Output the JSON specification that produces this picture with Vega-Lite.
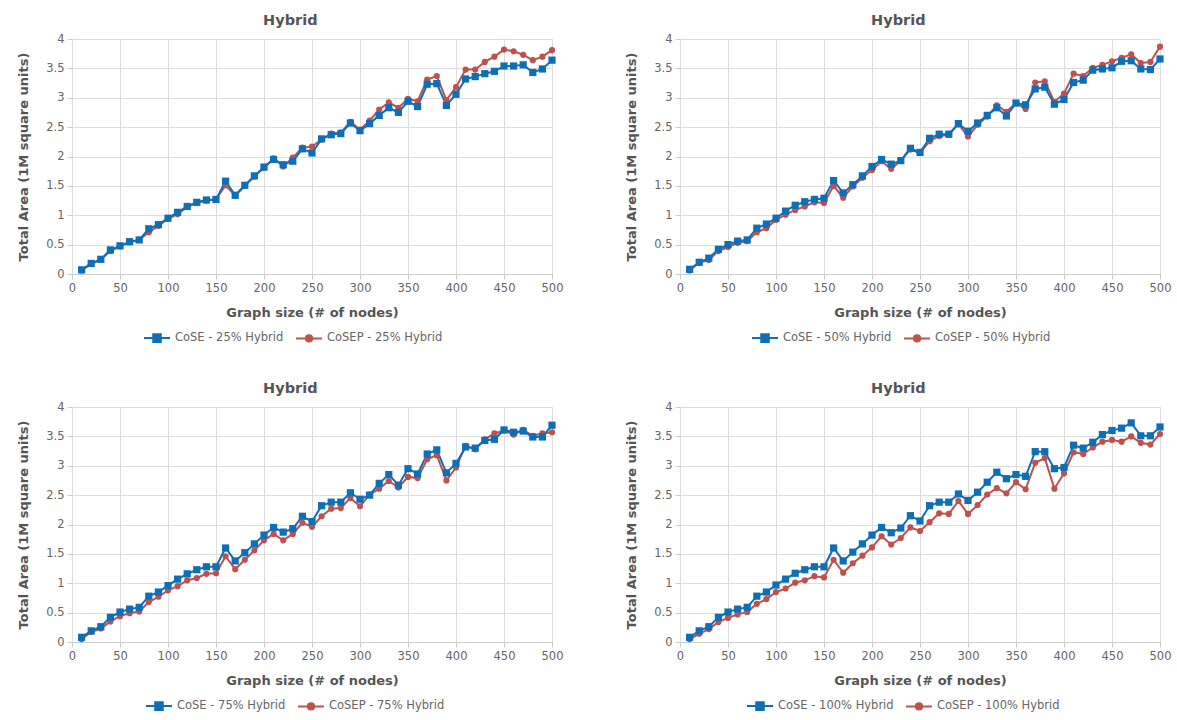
{
  "$schema": "https://vega.github.io/schema/vega-lite/v6.json",
  "padding": {"left": 17, "top": 12, "right": 5, "bottom": 5},
  "background": "white",
  "datasets": {
    "p1": [
      {"x":10,"s":"CoSEP","y":0.06},{"x":20,"s":"CoSEP","y":0.17},{"x":30,"s":"CoSEP","y":0.25},{"x":40,"s":"CoSEP","y":0.39},{"x":50,"s":"CoSEP","y":0.47},{"x":60,"s":"CoSEP","y":0.54},{"x":70,"s":"CoSEP","y":0.58},{"x":80,"s":"CoSEP","y":0.71},{"x":90,"s":"CoSEP","y":0.82},{"x":100,"s":"CoSEP","y":0.94},
      {"x":110,"s":"CoSEP","y":1.02},{"x":120,"s":"CoSEP","y":1.14},{"x":130,"s":"CoSEP","y":1.21},{"x":140,"s":"CoSEP","y":1.25},{"x":150,"s":"CoSEP","y":1.27},{"x":160,"s":"CoSEP","y":1.51},{"x":170,"s":"CoSEP","y":1.33},{"x":180,"s":"CoSEP","y":1.50},{"x":190,"s":"CoSEP","y":1.66},{"x":200,"s":"CoSEP","y":1.81},
      {"x":210,"s":"CoSEP","y":1.97},{"x":220,"s":"CoSEP","y":1.83},{"x":230,"s":"CoSEP","y":1.98},{"x":240,"s":"CoSEP","y":2.15},{"x":250,"s":"CoSEP","y":2.17},{"x":260,"s":"CoSEP","y":2.29},{"x":270,"s":"CoSEP","y":2.39},{"x":280,"s":"CoSEP","y":2.41},{"x":290,"s":"CoSEP","y":2.59},{"x":300,"s":"CoSEP","y":2.46},
      {"x":310,"s":"CoSEP","y":2.61},{"x":320,"s":"CoSEP","y":2.80},{"x":330,"s":"CoSEP","y":2.92},{"x":340,"s":"CoSEP","y":2.83},{"x":350,"s":"CoSEP","y":2.98},{"x":360,"s":"CoSEP","y":2.94},{"x":370,"s":"CoSEP","y":3.31},{"x":380,"s":"CoSEP","y":3.37},{"x":390,"s":"CoSEP","y":2.96},{"x":400,"s":"CoSEP","y":3.18},
      {"x":410,"s":"CoSEP","y":3.48},{"x":420,"s":"CoSEP","y":3.48},{"x":430,"s":"CoSEP","y":3.61},{"x":440,"s":"CoSEP","y":3.70},{"x":450,"s":"CoSEP","y":3.82},{"x":460,"s":"CoSEP","y":3.79},{"x":470,"s":"CoSEP","y":3.73},{"x":480,"s":"CoSEP","y":3.64},{"x":490,"s":"CoSEP","y":3.70},{"x":500,"s":"CoSEP","y":3.81},
      {"x":10,"s":"CoSE","y":0.07},{"x":20,"s":"CoSE","y":0.18},{"x":30,"s":"CoSE","y":0.25},{"x":40,"s":"CoSE","y":0.41},{"x":50,"s":"CoSE","y":0.48},{"x":60,"s":"CoSE","y":0.55},{"x":70,"s":"CoSE","y":0.58},{"x":80,"s":"CoSE","y":0.77},{"x":90,"s":"CoSE","y":0.84},{"x":100,"s":"CoSE","y":0.95},
      {"x":110,"s":"CoSE","y":1.05},{"x":120,"s":"CoSE","y":1.15},{"x":130,"s":"CoSE","y":1.22},{"x":140,"s":"CoSE","y":1.26},{"x":150,"s":"CoSE","y":1.27},{"x":160,"s":"CoSE","y":1.58},{"x":170,"s":"CoSE","y":1.34},{"x":180,"s":"CoSE","y":1.51},{"x":190,"s":"CoSE","y":1.67},{"x":200,"s":"CoSE","y":1.82},
      {"x":210,"s":"CoSE","y":1.95},{"x":220,"s":"CoSE","y":1.86},{"x":230,"s":"CoSE","y":1.92},{"x":240,"s":"CoSE","y":2.13},{"x":250,"s":"CoSE","y":2.06},{"x":260,"s":"CoSE","y":2.30},{"x":270,"s":"CoSE","y":2.37},{"x":280,"s":"CoSE","y":2.39},{"x":290,"s":"CoSE","y":2.57},{"x":300,"s":"CoSE","y":2.44},
      {"x":310,"s":"CoSE","y":2.56},{"x":320,"s":"CoSE","y":2.70},{"x":330,"s":"CoSE","y":2.83},{"x":340,"s":"CoSE","y":2.75},{"x":350,"s":"CoSE","y":2.94},{"x":360,"s":"CoSE","y":2.85},{"x":370,"s":"CoSE","y":3.23},{"x":380,"s":"CoSE","y":3.24},{"x":390,"s":"CoSE","y":2.87},{"x":400,"s":"CoSE","y":3.06},
      {"x":410,"s":"CoSE","y":3.32},{"x":420,"s":"CoSE","y":3.36},{"x":430,"s":"CoSE","y":3.41},{"x":440,"s":"CoSE","y":3.45},{"x":450,"s":"CoSE","y":3.54},{"x":460,"s":"CoSE","y":3.54},{"x":470,"s":"CoSE","y":3.56},{"x":480,"s":"CoSE","y":3.43},{"x":490,"s":"CoSE","y":3.49},{"x":500,"s":"CoSE","y":3.64}
    ],
    "p2": [
      {"x":10,"s":"CoSEP","y":0.06},{"x":20,"s":"CoSEP","y":0.19},{"x":30,"s":"CoSEP","y":0.24},{"x":40,"s":"CoSEP","y":0.39},{"x":50,"s":"CoSEP","y":0.46},{"x":60,"s":"CoSEP","y":0.53},{"x":70,"s":"CoSEP","y":0.56},{"x":80,"s":"CoSEP","y":0.71},{"x":90,"s":"CoSEP","y":0.78},{"x":100,"s":"CoSEP","y":0.92},
      {"x":110,"s":"CoSEP","y":1.01},{"x":120,"s":"CoSEP","y":1.09},{"x":130,"s":"CoSEP","y":1.15},{"x":140,"s":"CoSEP","y":1.22},{"x":150,"s":"CoSEP","y":1.21},{"x":160,"s":"CoSEP","y":1.50},{"x":170,"s":"CoSEP","y":1.30},{"x":180,"s":"CoSEP","y":1.49},{"x":190,"s":"CoSEP","y":1.64},{"x":200,"s":"CoSEP","y":1.77},
      {"x":210,"s":"CoSEP","y":1.92},{"x":220,"s":"CoSEP","y":1.79},{"x":230,"s":"CoSEP","y":1.93},{"x":240,"s":"CoSEP","y":2.12},{"x":250,"s":"CoSEP","y":2.06},{"x":260,"s":"CoSEP","y":2.26},{"x":270,"s":"CoSEP","y":2.35},{"x":280,"s":"CoSEP","y":2.37},{"x":290,"s":"CoSEP","y":2.55},{"x":300,"s":"CoSEP","y":2.34},
      {"x":310,"s":"CoSEP","y":2.54},{"x":320,"s":"CoSEP","y":2.68},{"x":330,"s":"CoSEP","y":2.87},{"x":340,"s":"CoSEP","y":2.76},{"x":350,"s":"CoSEP","y":2.91},{"x":360,"s":"CoSEP","y":2.81},{"x":370,"s":"CoSEP","y":3.26},{"x":380,"s":"CoSEP","y":3.28},{"x":390,"s":"CoSEP","y":2.93},{"x":400,"s":"CoSEP","y":3.07},
      {"x":410,"s":"CoSEP","y":3.41},{"x":420,"s":"CoSEP","y":3.37},{"x":430,"s":"CoSEP","y":3.51},{"x":440,"s":"CoSEP","y":3.56},{"x":450,"s":"CoSEP","y":3.62},{"x":460,"s":"CoSEP","y":3.68},{"x":470,"s":"CoSEP","y":3.74},{"x":480,"s":"CoSEP","y":3.59},{"x":490,"s":"CoSEP","y":3.61},{"x":500,"s":"CoSEP","y":3.87},
      {"x":10,"s":"CoSE","y":0.08},{"x":20,"s":"CoSE","y":0.20},{"x":30,"s":"CoSE","y":0.27},{"x":40,"s":"CoSE","y":0.42},{"x":50,"s":"CoSE","y":0.50},{"x":60,"s":"CoSE","y":0.56},{"x":70,"s":"CoSE","y":0.58},{"x":80,"s":"CoSE","y":0.78},{"x":90,"s":"CoSE","y":0.85},{"x":100,"s":"CoSE","y":0.95},
      {"x":110,"s":"CoSE","y":1.07},{"x":120,"s":"CoSE","y":1.17},{"x":130,"s":"CoSE","y":1.23},{"x":140,"s":"CoSE","y":1.27},{"x":150,"s":"CoSE","y":1.29},{"x":160,"s":"CoSE","y":1.59},{"x":170,"s":"CoSE","y":1.38},{"x":180,"s":"CoSE","y":1.52},{"x":190,"s":"CoSE","y":1.67},{"x":200,"s":"CoSE","y":1.83},
      {"x":210,"s":"CoSE","y":1.95},{"x":220,"s":"CoSE","y":1.87},{"x":230,"s":"CoSE","y":1.93},{"x":240,"s":"CoSE","y":2.14},{"x":250,"s":"CoSE","y":2.07},{"x":260,"s":"CoSE","y":2.31},{"x":270,"s":"CoSE","y":2.38},{"x":280,"s":"CoSE","y":2.38},{"x":290,"s":"CoSE","y":2.56},{"x":300,"s":"CoSE","y":2.43},
      {"x":310,"s":"CoSE","y":2.57},{"x":320,"s":"CoSE","y":2.70},{"x":330,"s":"CoSE","y":2.83},{"x":340,"s":"CoSE","y":2.69},{"x":350,"s":"CoSE","y":2.91},{"x":360,"s":"CoSE","y":2.88},{"x":370,"s":"CoSE","y":3.15},{"x":380,"s":"CoSE","y":3.18},{"x":390,"s":"CoSE","y":2.89},{"x":400,"s":"CoSE","y":2.97},
      {"x":410,"s":"CoSE","y":3.26},{"x":420,"s":"CoSE","y":3.30},{"x":430,"s":"CoSE","y":3.47},{"x":440,"s":"CoSE","y":3.49},{"x":450,"s":"CoSE","y":3.51},{"x":460,"s":"CoSE","y":3.62},{"x":470,"s":"CoSE","y":3.63},{"x":480,"s":"CoSE","y":3.49},{"x":490,"s":"CoSE","y":3.48},{"x":500,"s":"CoSE","y":3.66}
    ],
    "p3": [
      {"x":10,"s":"CoSEP","y":0.05},{"x":20,"s":"CoSEP","y":0.17},{"x":30,"s":"CoSEP","y":0.23},{"x":40,"s":"CoSEP","y":0.35},{"x":50,"s":"CoSEP","y":0.44},{"x":60,"s":"CoSEP","y":0.49},{"x":70,"s":"CoSEP","y":0.52},{"x":80,"s":"CoSEP","y":0.68},{"x":90,"s":"CoSEP","y":0.77},{"x":100,"s":"CoSEP","y":0.88},
      {"x":110,"s":"CoSEP","y":0.95},{"x":120,"s":"CoSEP","y":1.05},{"x":130,"s":"CoSEP","y":1.09},{"x":140,"s":"CoSEP","y":1.16},{"x":150,"s":"CoSEP","y":1.17},{"x":160,"s":"CoSEP","y":1.46},{"x":170,"s":"CoSEP","y":1.24},{"x":180,"s":"CoSEP","y":1.40},{"x":190,"s":"CoSEP","y":1.56},{"x":200,"s":"CoSEP","y":1.73},
      {"x":210,"s":"CoSEP","y":1.84},{"x":220,"s":"CoSEP","y":1.73},{"x":230,"s":"CoSEP","y":1.84},{"x":240,"s":"CoSEP","y":2.03},{"x":250,"s":"CoSEP","y":1.96},{"x":260,"s":"CoSEP","y":2.14},{"x":270,"s":"CoSEP","y":2.27},{"x":280,"s":"CoSEP","y":2.28},{"x":290,"s":"CoSEP","y":2.45},{"x":300,"s":"CoSEP","y":2.31},
      {"x":310,"s":"CoSEP","y":2.51},{"x":320,"s":"CoSEP","y":2.61},{"x":330,"s":"CoSEP","y":2.74},{"x":340,"s":"CoSEP","y":2.63},{"x":350,"s":"CoSEP","y":2.81},{"x":360,"s":"CoSEP","y":2.79},{"x":370,"s":"CoSEP","y":3.11},{"x":380,"s":"CoSEP","y":3.18},{"x":390,"s":"CoSEP","y":2.75},{"x":400,"s":"CoSEP","y":2.97},
      {"x":410,"s":"CoSEP","y":3.34},{"x":420,"s":"CoSEP","y":3.28},{"x":430,"s":"CoSEP","y":3.45},{"x":440,"s":"CoSEP","y":3.55},{"x":450,"s":"CoSEP","y":3.60},{"x":460,"s":"CoSEP","y":3.53},{"x":470,"s":"CoSEP","y":3.61},{"x":480,"s":"CoSEP","y":3.51},{"x":490,"s":"CoSEP","y":3.55},{"x":500,"s":"CoSEP","y":3.57},
      {"x":10,"s":"CoSE","y":0.08},{"x":20,"s":"CoSE","y":0.19},{"x":30,"s":"CoSE","y":0.26},{"x":40,"s":"CoSE","y":0.42},{"x":50,"s":"CoSE","y":0.51},{"x":60,"s":"CoSE","y":0.56},{"x":70,"s":"CoSE","y":0.59},{"x":80,"s":"CoSE","y":0.78},{"x":90,"s":"CoSE","y":0.85},{"x":100,"s":"CoSE","y":0.96},
      {"x":110,"s":"CoSE","y":1.07},{"x":120,"s":"CoSE","y":1.16},{"x":130,"s":"CoSE","y":1.23},{"x":140,"s":"CoSE","y":1.28},{"x":150,"s":"CoSE","y":1.28},{"x":160,"s":"CoSE","y":1.60},{"x":170,"s":"CoSE","y":1.38},{"x":180,"s":"CoSE","y":1.52},{"x":190,"s":"CoSE","y":1.67},{"x":200,"s":"CoSE","y":1.82},
      {"x":210,"s":"CoSE","y":1.95},{"x":220,"s":"CoSE","y":1.87},{"x":230,"s":"CoSE","y":1.93},{"x":240,"s":"CoSE","y":2.14},{"x":250,"s":"CoSE","y":2.05},{"x":260,"s":"CoSE","y":2.32},{"x":270,"s":"CoSE","y":2.38},{"x":280,"s":"CoSE","y":2.38},{"x":290,"s":"CoSE","y":2.54},{"x":300,"s":"CoSE","y":2.43},
      {"x":310,"s":"CoSE","y":2.50},{"x":320,"s":"CoSE","y":2.70},{"x":330,"s":"CoSE","y":2.85},{"x":340,"s":"CoSE","y":2.67},{"x":350,"s":"CoSE","y":2.95},{"x":360,"s":"CoSE","y":2.86},{"x":370,"s":"CoSE","y":3.20},{"x":380,"s":"CoSE","y":3.27},{"x":390,"s":"CoSE","y":2.88},{"x":400,"s":"CoSE","y":3.04},
      {"x":410,"s":"CoSE","y":3.32},{"x":420,"s":"CoSE","y":3.30},{"x":430,"s":"CoSE","y":3.43},{"x":440,"s":"CoSE","y":3.45},{"x":450,"s":"CoSE","y":3.61},{"x":460,"s":"CoSE","y":3.57},{"x":470,"s":"CoSE","y":3.59},{"x":480,"s":"CoSE","y":3.49},{"x":490,"s":"CoSE","y":3.49},{"x":500,"s":"CoSE","y":3.69}
    ],
    "p4": [
      {"x":10,"s":"CoSEP","y":0.05},{"x":20,"s":"CoSEP","y":0.14},{"x":30,"s":"CoSEP","y":0.22},{"x":40,"s":"CoSEP","y":0.34},{"x":50,"s":"CoSEP","y":0.41},{"x":60,"s":"CoSEP","y":0.47},{"x":70,"s":"CoSEP","y":0.51},{"x":80,"s":"CoSEP","y":0.65},{"x":90,"s":"CoSEP","y":0.73},{"x":100,"s":"CoSEP","y":0.85},
      {"x":110,"s":"CoSEP","y":0.91},{"x":120,"s":"CoSEP","y":1.01},{"x":130,"s":"CoSEP","y":1.05},{"x":140,"s":"CoSEP","y":1.12},{"x":150,"s":"CoSEP","y":1.10},{"x":160,"s":"CoSEP","y":1.40},{"x":170,"s":"CoSEP","y":1.18},{"x":180,"s":"CoSEP","y":1.34},{"x":190,"s":"CoSEP","y":1.47},{"x":200,"s":"CoSEP","y":1.61},
      {"x":210,"s":"CoSEP","y":1.80},{"x":220,"s":"CoSEP","y":1.66},{"x":230,"s":"CoSEP","y":1.77},{"x":240,"s":"CoSEP","y":1.95},{"x":250,"s":"CoSEP","y":1.89},{"x":260,"s":"CoSEP","y":2.04},{"x":270,"s":"CoSEP","y":2.19},{"x":280,"s":"CoSEP","y":2.18},{"x":290,"s":"CoSEP","y":2.40},{"x":300,"s":"CoSEP","y":2.18},
      {"x":310,"s":"CoSEP","y":2.33},{"x":320,"s":"CoSEP","y":2.51},{"x":330,"s":"CoSEP","y":2.62},{"x":340,"s":"CoSEP","y":2.53},{"x":350,"s":"CoSEP","y":2.72},{"x":360,"s":"CoSEP","y":2.60},{"x":370,"s":"CoSEP","y":3.05},{"x":380,"s":"CoSEP","y":3.13},{"x":390,"s":"CoSEP","y":2.61},{"x":400,"s":"CoSEP","y":2.87},
      {"x":410,"s":"CoSEP","y":3.23},{"x":420,"s":"CoSEP","y":3.20},{"x":430,"s":"CoSEP","y":3.31},{"x":440,"s":"CoSEP","y":3.41},{"x":450,"s":"CoSEP","y":3.44},{"x":460,"s":"CoSEP","y":3.41},{"x":470,"s":"CoSEP","y":3.50},{"x":480,"s":"CoSEP","y":3.39},{"x":490,"s":"CoSEP","y":3.36},{"x":500,"s":"CoSEP","y":3.54},
      {"x":10,"s":"CoSE","y":0.08},{"x":20,"s":"CoSE","y":0.19},{"x":30,"s":"CoSE","y":0.26},{"x":40,"s":"CoSE","y":0.42},{"x":50,"s":"CoSE","y":0.51},{"x":60,"s":"CoSE","y":0.56},{"x":70,"s":"CoSE","y":0.59},{"x":80,"s":"CoSE","y":0.78},{"x":90,"s":"CoSE","y":0.85},{"x":100,"s":"CoSE","y":0.97},
      {"x":110,"s":"CoSE","y":1.07},{"x":120,"s":"CoSE","y":1.17},{"x":130,"s":"CoSE","y":1.23},{"x":140,"s":"CoSE","y":1.28},{"x":150,"s":"CoSE","y":1.28},{"x":160,"s":"CoSE","y":1.60},{"x":170,"s":"CoSE","y":1.38},{"x":180,"s":"CoSE","y":1.53},{"x":190,"s":"CoSE","y":1.67},{"x":200,"s":"CoSE","y":1.82},
      {"x":210,"s":"CoSE","y":1.95},{"x":220,"s":"CoSE","y":1.86},{"x":230,"s":"CoSE","y":1.94},{"x":240,"s":"CoSE","y":2.15},{"x":250,"s":"CoSE","y":2.06},{"x":260,"s":"CoSE","y":2.32},{"x":270,"s":"CoSE","y":2.38},{"x":280,"s":"CoSE","y":2.38},{"x":290,"s":"CoSE","y":2.52},{"x":300,"s":"CoSE","y":2.41},
      {"x":310,"s":"CoSE","y":2.55},{"x":320,"s":"CoSE","y":2.72},{"x":330,"s":"CoSE","y":2.89},{"x":340,"s":"CoSE","y":2.78},{"x":350,"s":"CoSE","y":2.85},{"x":360,"s":"CoSE","y":2.82},{"x":370,"s":"CoSE","y":3.24},{"x":380,"s":"CoSE","y":3.24},{"x":390,"s":"CoSE","y":2.95},{"x":400,"s":"CoSE","y":2.97},
      {"x":410,"s":"CoSE","y":3.35},{"x":420,"s":"CoSE","y":3.30},{"x":430,"s":"CoSE","y":3.40},{"x":440,"s":"CoSE","y":3.53},{"x":450,"s":"CoSE","y":3.60},{"x":460,"s":"CoSE","y":3.64},{"x":470,"s":"CoSE","y":3.73},{"x":480,"s":"CoSE","y":3.51},{"x":490,"s":"CoSE","y":3.51},{"x":500,"s":"CoSE","y":3.66}
    ]
  },
  "columns": 2,
  "spacing": {"row": 34, "column": 62},
  "resolve": {"legend": {"color": "independent"}},
  "concat": [
    {
      "width": 480, "height": 235,
      "data": {"name": "p1"},
      "title": "Hybrid",
      "encoding": {
        "x": {"field": "x", "type": "quantitative", "title": "Graph size (# of nodes)"},
        "y": {"field": "y", "type": "quantitative", "title": "Total Area (1M square units)"},
        "color": {"field": "s", "type": "nominal", "scale": {"domain": ["CoSE", "CoSEP"], "range": ["#0f6fb6", "#c0504d"]},
          "legend": {"labelExpr": "datum.label + ' - 25% Hybrid'", "legendX": 71, "legendY": 285,
            "encode": {"symbols": {"update": {"shape": {"signal": "datum.value == 'CoSE' ? 'M-1,0H1M-0.29,-0.29H0.29V0.29H-0.29Z' : 'M-1,0H1M0.24,0A0.24,0.24 0 1 1 -0.24,0A0.24,0.24 0 1 1 0.24,0Z'"}}}}}}
      },
      "layer": [
        {"mark": {"type": "line", "strokeWidth": 2}},
        {"mark": {"type": "point", "filled": true, "opacity": 1}, "encoding": {"shape": {"field": "s", "type": "nominal", "scale": {"domain": ["CoSE", "CoSEP"], "range": ["square", "circle"]}, "legend": null}, "size": {"field": "s", "type": "nominal", "scale": {"domain": ["CoSE", "CoSEP"], "range": [52, 38]}, "legend": null}}}
      ]
    },
    {
      "width": 480, "height": 235,
      "data": {"name": "p2"},
      "title": "Hybrid",
      "encoding": {
        "x": {"field": "x", "type": "quantitative", "title": "Graph size (# of nodes)"},
        "y": {"field": "y", "type": "quantitative", "title": "Total Area (1M square units)"},
        "color": {"field": "s", "type": "nominal", "scale": {"domain": ["CoSE", "CoSEP"], "range": ["#0f6fb6", "#c0504d"]},
          "legend": {"labelExpr": "datum.label + ' - 50% Hybrid'", "legendX": 71, "legendY": 285,
            "encode": {"symbols": {"update": {"shape": {"signal": "datum.value == 'CoSE' ? 'M-1,0H1M-0.29,-0.29H0.29V0.29H-0.29Z' : 'M-1,0H1M0.24,0A0.24,0.24 0 1 1 -0.24,0A0.24,0.24 0 1 1 0.24,0Z'"}}}}}}
      },
      "layer": [
        {"mark": {"type": "line", "strokeWidth": 2}},
        {"mark": {"type": "point", "filled": true, "opacity": 1}, "encoding": {"shape": {"field": "s", "type": "nominal", "scale": {"domain": ["CoSE", "CoSEP"], "range": ["square", "circle"]}, "legend": null}, "size": {"field": "s", "type": "nominal", "scale": {"domain": ["CoSE", "CoSEP"], "range": [52, 38]}, "legend": null}}}
      ]
    },
    {
      "width": 480, "height": 235,
      "data": {"name": "p3"},
      "title": "Hybrid",
      "encoding": {
        "x": {"field": "x", "type": "quantitative", "title": "Graph size (# of nodes)"},
        "y": {"field": "y", "type": "quantitative", "title": "Total Area (1M square units)"},
        "color": {"field": "s", "type": "nominal", "scale": {"domain": ["CoSE", "CoSEP"], "range": ["#0f6fb6", "#c0504d"]},
          "legend": {"labelExpr": "datum.label + ' - 75% Hybrid'", "legendX": 73, "legendY": 285,
            "encode": {"symbols": {"update": {"shape": {"signal": "datum.value == 'CoSE' ? 'M-1,0H1M-0.29,-0.29H0.29V0.29H-0.29Z' : 'M-1,0H1M0.24,0A0.24,0.24 0 1 1 -0.24,0A0.24,0.24 0 1 1 0.24,0Z'"}}}}}}
      },
      "layer": [
        {"mark": {"type": "line", "strokeWidth": 2}},
        {"mark": {"type": "point", "filled": true, "opacity": 1}, "encoding": {"shape": {"field": "s", "type": "nominal", "scale": {"domain": ["CoSE", "CoSEP"], "range": ["square", "circle"]}, "legend": null}, "size": {"field": "s", "type": "nominal", "scale": {"domain": ["CoSE", "CoSEP"], "range": [52, 38]}, "legend": null}}}
      ]
    },
    {
      "width": 480, "height": 235,
      "data": {"name": "p4"},
      "title": "Hybrid",
      "encoding": {
        "x": {"field": "x", "type": "quantitative", "title": "Graph size (# of nodes)"},
        "y": {"field": "y", "type": "quantitative", "title": "Total Area (1M square units)"},
        "color": {"field": "s", "type": "nominal", "scale": {"domain": ["CoSE", "CoSEP"], "range": ["#0f6fb6", "#c0504d"]},
          "legend": {"labelExpr": "datum.label + ' - 100% Hybrid'", "legendX": 66, "legendY": 285,
            "encode": {"symbols": {"update": {"shape": {"signal": "datum.value == 'CoSE' ? 'M-1,0H1M-0.29,-0.29H0.29V0.29H-0.29Z' : 'M-1,0H1M0.24,0A0.24,0.24 0 1 1 -0.24,0A0.24,0.24 0 1 1 0.24,0Z'"}}}}}}
      },
      "layer": [
        {"mark": {"type": "line", "strokeWidth": 2}},
        {"mark": {"type": "point", "filled": true, "opacity": 1}, "encoding": {"shape": {"field": "s", "type": "nominal", "scale": {"domain": ["CoSE", "CoSEP"], "range": ["square", "circle"]}, "legend": null}, "size": {"field": "s", "type": "nominal", "scale": {"domain": ["CoSE", "CoSEP"], "range": [52, 38]}, "legend": null}}}
      ]
    }
  ],
  "config": {
    "font": "DejaVu Sans",
    "view": {"stroke": null},
    "title": {"fontSize": 14.5, "fontWeight": "bold", "color": "#555555", "font": "DejaVu Sans", "offset": 5, "anchor": "middle", "frame": "bounds"},
    "axis": {"labelFont": "DejaVu Sans", "labelFontSize": 11.5, "labelColor": "#666666", "titleFont": "DejaVu Sans", "titleFontSize": 13, "titleFontWeight": "bold", "titleColor": "#555555", "gridColor": "#dddddd", "tickColor": "#cccccc", "tickSize": 5, "domainColor": "#cccccc"},
    "axisX": {"values": [0, 50, 100, 150, 200, 250, 300, 350, 400, 450, 500], "labelPadding": 3, "titlePadding": 13, "labelFlush": false},
    "axisY": {"values": [0, 0.5, 1, 1.5, 2, 2.5, 3, 3.5, 4], "format": "~g", "domain": false, "labelPadding": 3, "titlePadding": 15},
    "legend": {"orient": "none", "direction": "horizontal", "title": null, "labelFont": "DejaVu Sans", "labelFontSize": 11.5, "labelColor": "#666666", "symbolSize": 676, "symbolStrokeWidth": 2, "columnPadding": 8, "labelOffset": 4,
      "symbolType": "M-1,0H1M-0.29,-0.29H0.29V0.29H-0.29Z"}
  }
}
